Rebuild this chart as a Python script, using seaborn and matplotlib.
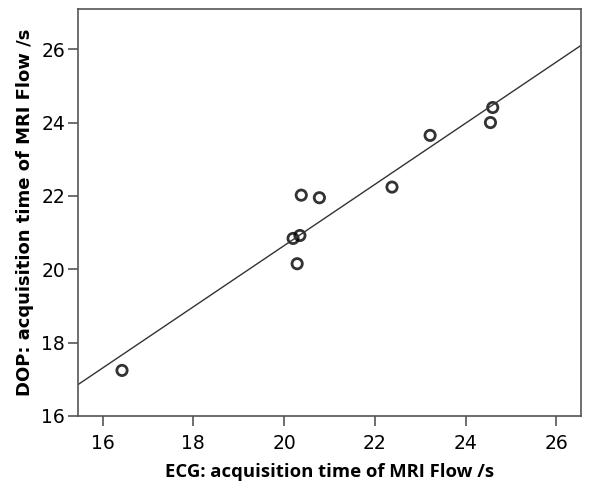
import matplotlib
matplotlib.use("Agg")
import matplotlib.pyplot as plt
import pandas as pd
import seaborn as sns

ecg = [16.43, 20.20, 20.35, 20.29, 20.38, 20.78, 22.38, 23.22, 24.55, 24.60]
dop = [17.24, 20.84, 20.92, 20.15, 22.02, 21.95, 22.24, 23.65, 24.00, 24.41]
ticks = [16, 18, 20, 22, 24, 26]

data = pd.DataFrame({"ecg": ecg, "dop": dop})

sns.set_style("ticks")
plt.rcParams['font.family'] = ['DejaVu Sans']
plt.rcParams['text.color'] = 'black'
plt.rcParams['axes.labelcolor'] = 'black'

fig = plt.figure(figsize=(5.92, 4.87), dpi=100)
ax = fig.add_axes([0.131, 0.146, 0.85, 0.835])
ax.set_xlim(15.45, 26.54)
ax.set_ylim(16, 27.09)

sns.regplot(data=data, x="ecg", y="dop", ax=ax, ci=None, truncate=False, color="black",
            scatter_kws=dict(s=55, facecolors="none", edgecolors="black", linewidths=2),
            line_kws=dict(color="#333333", linewidth=1))
ax.set_xlim(15.45, 26.54)
ax.set_ylim(16, 27.09)

ax.set_xticks(ticks)
ax.set_yticks(ticks)
ax.tick_params(axis="both", direction="out", length=7, width=1.2, colors="#555555",
               labelcolor="black", labelsize=13.5)
ax.tick_params(axis="x", pad=6)
ax.tick_params(axis="y", pad=2)
for s in ax.spines.values():
    s.set_visible(True)
    s.set_color("#555555")
    s.set_linewidth(1.2)

ax.set_xlabel("ECG: acquisition time of MRI Flow /s", fontsize=13.3, fontweight="bold",
              family=["Open Sans", "DejaVu Sans"], labelpad=7)
ax.set_ylabel("DOP: acquisition time of MRI Flow /s", fontsize=13, fontweight="bold", labelpad=5)

fig.savefig("out.png", dpi=100)
